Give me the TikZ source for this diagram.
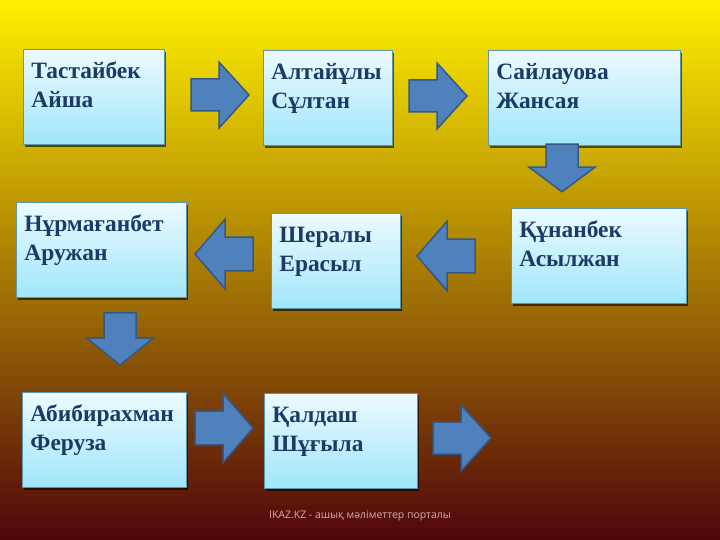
\documentclass[tikz,border=0pt]{standalone}
\usepackage{fontspec}
\setmainfont{Liberation Serif}
\newfontfamily\footfont{Open Sans}
\usetikzlibrary{shadows}
\definecolor{bgtop}{RGB}{255, 240, 0}
\definecolor{bgmid}{RGB}{160, 118, 0}
\definecolor{bgbot}{RGB}{80, 5, 10}
\definecolor{boxtop}{RGB}{236, 250, 255}
\definecolor{boxbot}{RGB}{160, 230, 250}
\definecolor{boxline}{RGB}{90, 150, 175}
\definecolor{namecol}{RGB}{28, 58, 100}
\definecolor{arrowfill}{RGB}{79, 129, 189}
\definecolor{arrowline}{RGB}{52, 88, 135}
\definecolor{footcol}{RGB}{210, 175, 165}

\begin{document}
\begin{tikzpicture}[x=1bp, y=-1bp,
    box/.style={draw=boxline, line width=0.8bp, rectangle, anchor=north west,
      top color=boxtop, bottom color=boxbot,
      drop shadow={shadow xshift=2bp, shadow yshift=-2.5bp, opacity=0.6, fill=black},
      inner xsep=8bp, inner ysep=0pt, text width=#1, align=left,
      text height=29bp, text depth=66bp,
      font=\fontsize{23.5}{29}\selectfont\bfseries, text=namecol},
    arrowbody/.style={fill=arrowfill, draw=arrowline, line width=1.5bp, line join=miter},
    blockarrow/.pic={\draw[arrowbody] (-29,-16) -- (-1,-16) -- (-1,-33) -- (29,0)
      -- (-1,33) -- (-1,16) -- (-29,16) -- cycle;}]
  \useasboundingbox (0,0) rectangle (720,540);
  \shade[top color=bgtop, middle color=bgmid, bottom color=bgbot] (0,0) rectangle (720,540);

  % first row
  \node[box=125bp] (tast) at (23,49) {Тастайбек\\Айша};
  \node[box=113bp] (alt) at (263,50) {Алтайұлы\\Сұлтан};
  \node[box=176bp] (sail) at (488,50) {Сайлауова\\Жансая};
  % second row
  \node[box=159bp] (kun) at (511,208) {Құнанбек\\Асылжан};
  \node[box=113bp] (sher) at (271,213) {Шералы\\Ерасыл};
  \node[box=154bp] (nur) at (16,202) {Нұрмағанбет\\Аружан};
  % third row
  \node[box=148bp] (abi) at (22,392) {Абибирахман\\Феруза};
  \node[box=137bp] (kal) at (264,393) {Қалдаш\\Шұғыла};

  % block arrows
  \pic at (220,95) {blockarrow};
  \pic at (438,96) {blockarrow};
  \pic[rotate=-90, xscale=0.82] at (562,168) {blockarrow};
  \pic[rotate=180, yscale=1.05] at (446,256) {blockarrow};
  \pic[rotate=180, yscale=1.05] at (224,254) {blockarrow};
  \pic[rotate=-90, xscale=0.9] at (120,339) {blockarrow};
  \pic[yscale=1.05] at (224,428) {blockarrow};
  \pic at (462,438) {blockarrow};

  \node[font=\footfont\fontsize{10.5}{12}\selectfont, text=footcol] (foot) at (360,516)
    {IKAZ.KZ - ашық мәліметтер порталы};
\end{tikzpicture}
\end{document}
